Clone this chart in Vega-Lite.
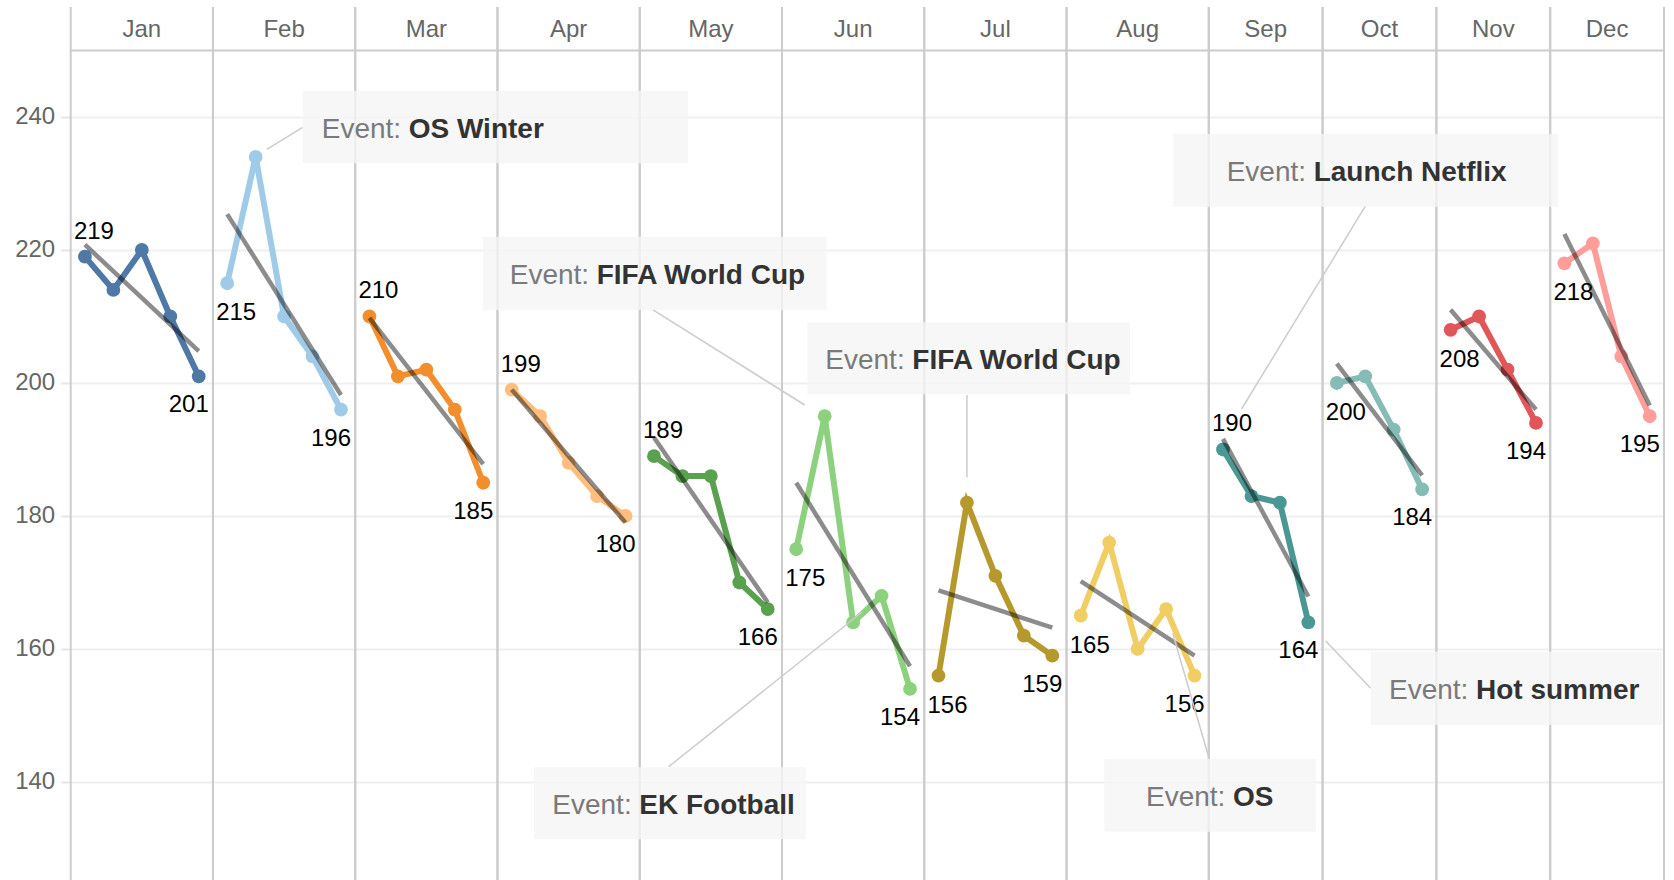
{
  "$schema": "https://vega.github.io/schema/vega-lite/v6.json",
  "autosize": "none",
  "padding": {"left": 70.7, "top": 7, "right": 10, "bottom": 0},
  "width": 1593.3,
  "height": 873,
  "background": "white",
  "config": {
    "view": {"stroke": null},
    "font": "Liberation Sans",
    "axisX": {"grid": false, "labels": false, "ticks": false, "domain": false},
    "axisY": {"grid": true, "gridColor": "#efefef", "gridWidth": 2, "ticks": true, "tickColor": "#e6e6e6", "tickSize": 10, "tickWidth": 2, "domain": false, "labelFontSize": 24, "labelColor": "#666666", "labelPadding": 6}
  },
  "datasets": {
    "weekly": [
      {"month": "Jan", "week": 1, "t": 1, "value": 219},
      {"month": "Jan", "week": 2, "t": 2, "value": 214},
      {"month": "Jan", "week": 3, "t": 3, "value": 220},
      {"month": "Jan", "week": 4, "t": 4, "value": 210},
      {"month": "Jan", "week": 5, "t": 5, "value": 201},
      {"month": "Feb", "week": 1, "t": 6, "value": 215},
      {"month": "Feb", "week": 2, "t": 7, "value": 234},
      {"month": "Feb", "week": 3, "t": 8, "value": 210},
      {"month": "Feb", "week": 4, "t": 9, "value": 204},
      {"month": "Feb", "week": 5, "t": 10, "value": 196},
      {"month": "Mar", "week": 1, "t": 11, "value": 210},
      {"month": "Mar", "week": 2, "t": 12, "value": 201},
      {"month": "Mar", "week": 3, "t": 13, "value": 202},
      {"month": "Mar", "week": 4, "t": 14, "value": 196},
      {"month": "Mar", "week": 5, "t": 15, "value": 185},
      {"month": "Apr", "week": 1, "t": 16, "value": 199},
      {"month": "Apr", "week": 2, "t": 17, "value": 195},
      {"month": "Apr", "week": 3, "t": 18, "value": 188},
      {"month": "Apr", "week": 4, "t": 19, "value": 183},
      {"month": "Apr", "week": 5, "t": 20, "value": 180},
      {"month": "May", "week": 1, "t": 21, "value": 189},
      {"month": "May", "week": 2, "t": 22, "value": 186},
      {"month": "May", "week": 3, "t": 23, "value": 186},
      {"month": "May", "week": 4, "t": 24, "value": 170},
      {"month": "May", "week": 5, "t": 25, "value": 166},
      {"month": "Jun", "week": 1, "t": 26, "value": 175},
      {"month": "Jun", "week": 2, "t": 27, "value": 195},
      {"month": "Jun", "week": 3, "t": 28, "value": 164},
      {"month": "Jun", "week": 4, "t": 29, "value": 168},
      {"month": "Jun", "week": 5, "t": 30, "value": 154},
      {"month": "Jul", "week": 1, "t": 31, "value": 156},
      {"month": "Jul", "week": 2, "t": 32, "value": 182},
      {"month": "Jul", "week": 3, "t": 33, "value": 171},
      {"month": "Jul", "week": 4, "t": 34, "value": 162},
      {"month": "Jul", "week": 5, "t": 35, "value": 159},
      {"month": "Aug", "week": 1, "t": 36, "value": 165},
      {"month": "Aug", "week": 2, "t": 37, "value": 176},
      {"month": "Aug", "week": 3, "t": 38, "value": 160},
      {"month": "Aug", "week": 4, "t": 39, "value": 166},
      {"month": "Aug", "week": 5, "t": 40, "value": 156},
      {"month": "Sep", "week": 1, "t": 41, "value": 190},
      {"month": "Sep", "week": 2, "t": 42, "value": 183},
      {"month": "Sep", "week": 3, "t": 43, "value": 182},
      {"month": "Sep", "week": 4, "t": 44, "value": 164},
      {"month": "Oct", "week": 1, "t": 45, "value": 200},
      {"month": "Oct", "week": 2, "t": 46, "value": 201},
      {"month": "Oct", "week": 3, "t": 47, "value": 193},
      {"month": "Oct", "week": 4, "t": 48, "value": 184},
      {"month": "Nov", "week": 1, "t": 49, "value": 208},
      {"month": "Nov", "week": 2, "t": 50, "value": 210},
      {"month": "Nov", "week": 3, "t": 51, "value": 202},
      {"month": "Nov", "week": 4, "t": 52, "value": 194},
      {"month": "Dec", "week": 1, "t": 53, "value": 218},
      {"month": "Dec", "week": 2, "t": 54, "value": 221},
      {"month": "Dec", "week": 3, "t": 55, "value": 204},
      {"month": "Dec", "week": 4, "t": 56, "value": 195}
    ],
    "events": [
      {"event": "OS Winter", "month": "Feb", "week": 2},
      {"event": "FIFA World Cup", "month": "Jun", "week": 2},
      {"event": "FIFA World Cup ", "month": "Jul", "week": 2},
      {"event": "EK Football", "month": "Jun", "week": 3},
      {"event": "OS", "month": "Aug", "week": 4},
      {"event": "Launch Netflix", "month": "Sep", "week": 1},
      {"event": "Hot summer", "month": "Sep", "week": 4}
    ]
  },
  "data": {"name": "weekly"},
  "layer": [
    {
      "data": {"values": [{}]},
      "mark": {"type": "rule", "color": "#cccccc", "strokeWidth": 2},
      "encoding": {
        "x": {"datum": 0.5, "type": "quantitative", "scale": {"domain": [0.5, 56.5], "nice": false, "zero": false}},
        "y": {"datum": 250, "type": "quantitative",
          "scale": {"domain": [125.26, 256.54], "nice": false, "zero": false},
          "axis": {"values": [140, 160, 180, 200, 220, 240], "grid": true, "ticks": true, "labels": true, "title": null}},
        "x2": {"datum": 56.5}
      }
    },
    {
      "transform": [{"aggregate": [{"op": "min", "field": "t", "as": "t0"}], "groupby": ["month"]}],
      "mark": {"type": "rule", "color": "#cccccc", "strokeWidth": 2, "xOffset": -14.226},
      "encoding": {"x": {"field": "t0", "type": "quantitative", "title": null}}
    },
    {
      "transform": [{"aggregate": [{"op": "max", "field": "t", "as": "t1"}], "groupby": ["month"]}],
      "mark": {"type": "rule", "color": "#cccccc", "strokeWidth": 2, "xOffset": 14.226},
      "encoding": {"x": {"field": "t1", "type": "quantitative", "title": null}}
    },
    {
      "transform": [{"aggregate": [{"op": "mean", "field": "t", "as": "tm"}], "groupby": ["month"]}],
      "mark": {"type": "text", "fontSize": 24, "color": "#666666", "align": "center", "baseline": "middle", "dy": -1},
      "encoding": {
        "x": {"field": "tm", "type": "quantitative", "title": null},
        "y": {"datum": 253.0, "type": "quantitative", "title": null},
        "text": {"field": "month"}
      }
    },
    {
      "mark": {"type": "line", "strokeWidth": 6},
      "encoding": {
        "x": {"field": "t", "type": "quantitative", "title": null},
        "y": {"field": "value", "type": "quantitative", "title": null},
        "color": {"field": "month", "type": "nominal", "legend": null,
          "scale": {"domain": ["Jan", "Feb", "Mar", "Apr", "May", "Jun", "Jul", "Aug", "Sep", "Oct", "Nov", "Dec"],
            "range": ["#4E79A7", "#A0CBE8", "#F28E2B", "#FFBE7D", "#59A14F", "#8CD17D", "#B6992D", "#F1CE63", "#499894", "#86BCB6", "#E15759", "#FF9D9A"]}}
      }
    },
    {
      "mark": {"type": "circle", "size": 190, "opacity": 1},
      "encoding": {
        "x": {"field": "t", "type": "quantitative", "title": null},
        "y": {"field": "value", "type": "quantitative", "title": null},
        "color": {"field": "month", "type": "nominal", "legend": null}
      }
    },
    {
      "transform": [{"regression": "value", "on": "t", "groupby": ["month"]}],
      "mark": {"type": "line", "color": "#000000", "opacity": 0.45, "strokeWidth": 4.5},
      "encoding": {
        "x": {"field": "t", "type": "quantitative", "title": null},
        "y": {"field": "value", "type": "quantitative", "title": null},
        "detail": {"field": "month"}
      }
    },
    {
      "transform": [{"filter": {"and": [{"field": "week", "equal": 1}, {"field": "month", "oneOf": ["Jan", "Mar", "Apr", "May", "Sep"]}]}}],
      "mark": {"type": "text", "fontSize": 24, "color": "#000000", "align": "center", "baseline": "middle", "dx": 9, "dy": -25},
      "encoding": {
        "x": {"field": "t", "type": "quantitative", "title": null},
        "y": {"field": "value", "type": "quantitative", "title": null},
        "text": {"field": "value", "type": "quantitative", "format": "d"}
      }
    },
    {
      "transform": [{"filter": {"and": [{"field": "week", "equal": 1}, {"field": "month", "oneOf": ["Feb", "Jun", "Jul", "Aug", "Oct", "Nov", "Dec"]}]}}],
      "mark": {"type": "text", "fontSize": 24, "color": "#000000", "align": "center", "baseline": "middle", "dx": 9, "dy": 30},
      "encoding": {
        "x": {"field": "t", "type": "quantitative", "title": null},
        "y": {"field": "value", "type": "quantitative", "title": null},
        "text": {"field": "value", "type": "quantitative", "format": "d"}
      }
    },
    {
      "transform": [
        {"joinaggregate": [{"op": "max", "field": "week", "as": "maxw"}], "groupby": ["month"]},
        {"filter": "datum.week === datum.maxw"}
      ],
      "mark": {"type": "text", "fontSize": 24, "color": "#000000", "align": "center", "baseline": "middle", "dx": -10, "dy": 29},
      "encoding": {
        "x": {"field": "t", "type": "quantitative", "title": null},
        "y": {"field": "value", "type": "quantitative", "title": null},
        "text": {"field": "value", "type": "quantitative", "format": "d"}
      }
    },
    {
      "data": {"name": "events"},
      "transform": [{"filter": "datum.event === 'OS Winter'"}],
      "layer": [
        {"mark": {"type": "rule", "color": "#cccccc", "strokeWidth": 1.5},
         "encoding": {"x": {"datum": 7.389}, "y": {"datum": 235.14}, "x2": {"datum": 8.654}, "y2": {"datum": 238.45}}},
        {"mark": {"type": "rect", "fill": "#f5f5f5", "opacity": 0.8},
         "encoding": {"x": {"datum": 8.654}, "x2": {"datum": 22.196}, "y": {"datum": 243.91}, "y2": {"datum": 233.04}}},
        {"mark": {"type": "text", "text": "Event:", "align": "left", "baseline": "middle", "fontSize": 28, "color": "#7a7a7a", "dy": 3},
         "encoding": {"x": {"datum": 9.322}, "y": {"datum": 238.47}}},
        {"mark": {"type": "text", "align": "left", "baseline": "middle", "fontSize": 28, "fontWeight": "bold", "color": "#333333", "dx": 87, "dy": 3},
         "encoding": {"x": {"datum": 9.322}, "y": {"datum": 238.47}, "text": {"field": "event"}}}
      ]
    },
    {
      "data": {"name": "events"},
      "transform": [{"filter": "datum.event === 'FIFA World Cup'"}],
      "layer": [
        {"mark": {"type": "rule", "color": "#cccccc", "strokeWidth": 1.5},
         "encoding": {"x": {"datum": 20.966}, "y": {"datum": 210.98}, "x2": {"datum": 26.298}, "y2": {"datum": 196.69}}},
        {"mark": {"type": "rect", "fill": "#f5f5f5", "opacity": 0.8},
         "encoding": {"x": {"datum": 14.991}, "x2": {"datum": 27.071}, "y": {"datum": 222.0}, "y2": {"datum": 210.98}}},
        {"mark": {"type": "text", "text": "Event:", "align": "left", "baseline": "middle", "fontSize": 28, "color": "#7a7a7a", "dy": 3},
         "encoding": {"x": {"datum": 15.93}, "y": {"datum": 216.49}}},
        {"mark": {"type": "text", "align": "left", "baseline": "middle", "fontSize": 28, "fontWeight": "bold", "color": "#333333", "dx": 87, "dy": 3},
         "encoding": {"x": {"datum": 15.93}, "y": {"datum": 216.49}, "text": {"field": "event"}}}
      ]
    },
    {
      "data": {"name": "events"},
      "transform": [{"filter": "datum.event === 'FIFA World Cup '"}],
      "layer": [
        {"mark": {"type": "rule", "color": "#cccccc", "strokeWidth": 1.5},
         "encoding": {"x": {"datum": 32}, "y": {"datum": 198.2}, "x2": {"datum": 32}, "y2": {"datum": 185.82}}},
        {"mark": {"type": "rect", "fill": "#f5f5f5", "opacity": 0.8},
         "encoding": {"x": {"datum": 26.389}, "x2": {"datum": 37.731}, "y": {"datum": 209.13}, "y2": {"datum": 198.3}}},
        {"mark": {"type": "text", "text": "Event:", "align": "left", "baseline": "middle", "fontSize": 28, "color": "#7a7a7a", "dy": 3},
         "encoding": {"x": {"datum": 27.022}, "y": {"datum": 203.71}}},
        {"mark": {"type": "text", "align": "left", "baseline": "middle", "fontSize": 28, "fontWeight": "bold", "color": "#333333", "dx": 87, "dy": 3},
         "encoding": {"x": {"datum": 27.022}, "y": {"datum": 203.71}, "text": {"field": "event"}}}
      ]
    },
    {
      "data": {"name": "events"},
      "transform": [{"filter": "datum.event === 'EK Football'"}],
      "layer": [
        {"mark": {"type": "rule", "color": "#cccccc", "strokeWidth": 1.5},
         "encoding": {"x": {"datum": 21.518}, "y": {"datum": 142.3}, "x2": {"datum": 28.312}, "y2": {"datum": 165.52}}},
        {"mark": {"type": "rect", "fill": "#f5f5f5", "opacity": 0.8},
         "encoding": {"x": {"datum": 16.784}, "x2": {"datum": 26.333}, "y": {"datum": 142.21}, "y2": {"datum": 131.38}}},
        {"mark": {"type": "text", "text": "Event:", "align": "left", "baseline": "middle", "fontSize": 28, "color": "#7a7a7a", "dy": 3},
         "encoding": {"x": {"datum": 17.427}, "y": {"datum": 136.8}}},
        {"mark": {"type": "text", "align": "left", "baseline": "middle", "fontSize": 28, "fontWeight": "bold", "color": "#333333", "dx": 87, "dy": 3},
         "encoding": {"x": {"datum": 17.427}, "y": {"datum": 136.8}, "text": {"field": "event"}}}
      ]
    },
    {
      "data": {"name": "events"},
      "transform": [{"filter": "datum.event === 'Launch Netflix'"}],
      "layer": [
        {"mark": {"type": "rule", "color": "#cccccc", "strokeWidth": 1.5},
         "encoding": {"x": {"datum": 46.008}, "y": {"datum": 226.62}, "x2": {"datum": 41.653}, "y2": {"datum": 196.09}}},
        {"mark": {"type": "rect", "fill": "#f5f5f5", "opacity": 0.8},
         "encoding": {"x": {"datum": 39.253}, "x2": {"datum": 52.774}, "y": {"datum": 237.44}, "y2": {"datum": 226.51}}},
        {"mark": {"type": "text", "text": "Event:", "align": "left", "baseline": "middle", "fontSize": 28, "color": "#7a7a7a", "dy": 3},
         "encoding": {"x": {"datum": 41.13}, "y": {"datum": 231.98}}},
        {"mark": {"type": "text", "align": "left", "baseline": "middle", "fontSize": 28, "fontWeight": "bold", "color": "#333333", "dx": 87, "dy": 3},
         "encoding": {"x": {"datum": 41.13}, "y": {"datum": 231.98}, "text": {"field": "event"}}}
      ]
    },
    {
      "data": {"name": "events"},
      "transform": [{"filter": "datum.event === 'Hot summer'"}],
      "layer": [
        {"mark": {"type": "rule", "color": "#cccccc", "strokeWidth": 1.5},
         "encoding": {"x": {"datum": 44.609}, "y": {"datum": 161.2}, "x2": {"datum": 46.191}, "y2": {"datum": 154.09}}},
        {"mark": {"type": "rect", "fill": "#f5f5f5", "opacity": 0.8},
         "encoding": {"x": {"datum": 46.191}, "x2": {"datum": 56.44}, "y": {"datum": 159.59}, "y2": {"datum": 148.57}}},
        {"mark": {"type": "text", "text": "Event:", "align": "left", "baseline": "middle", "fontSize": 28, "color": "#7a7a7a", "dy": 3},
         "encoding": {"x": {"datum": 46.834}, "y": {"datum": 154.08}}},
        {"mark": {"type": "text", "align": "left", "baseline": "middle", "fontSize": 28, "fontWeight": "bold", "color": "#333333", "dx": 87, "dy": 3},
         "encoding": {"x": {"datum": 46.834}, "y": {"datum": 154.08}, "text": {"field": "event"}}}
      ]
    },
    {
      "data": {"name": "events"},
      "transform": [{"filter": "datum.event === 'OS'"}],
      "layer": [
        {"mark": {"type": "rule", "color": "#cccccc", "strokeWidth": 1.5},
         "encoding": {"x": {"datum": 40.518}, "y": {"datum": 143.46}, "x2": {"datum": 39.232}, "y2": {"datum": 162.36}}},
        {"mark": {"type": "rect", "fill": "#f5f5f5", "opacity": 0.8},
         "encoding": {"x": {"datum": 36.828}, "x2": {"datum": 44.258}, "y": {"datum": 143.46}, "y2": {"datum": 132.53}}},
        {"mark": {"type": "text", "text": "Event:", "align": "left", "baseline": "middle", "fontSize": 28, "color": "#7a7a7a", "dy": 3},
         "encoding": {"x": {"datum": 38.293}, "y": {"datum": 137.99}}},
        {"mark": {"type": "text", "align": "left", "baseline": "middle", "fontSize": 28, "fontWeight": "bold", "color": "#333333", "dx": 87, "dy": 3},
         "encoding": {"x": {"datum": 38.293}, "y": {"datum": 137.99}, "text": {"field": "event"}}}
      ]
    }
  ]
}
